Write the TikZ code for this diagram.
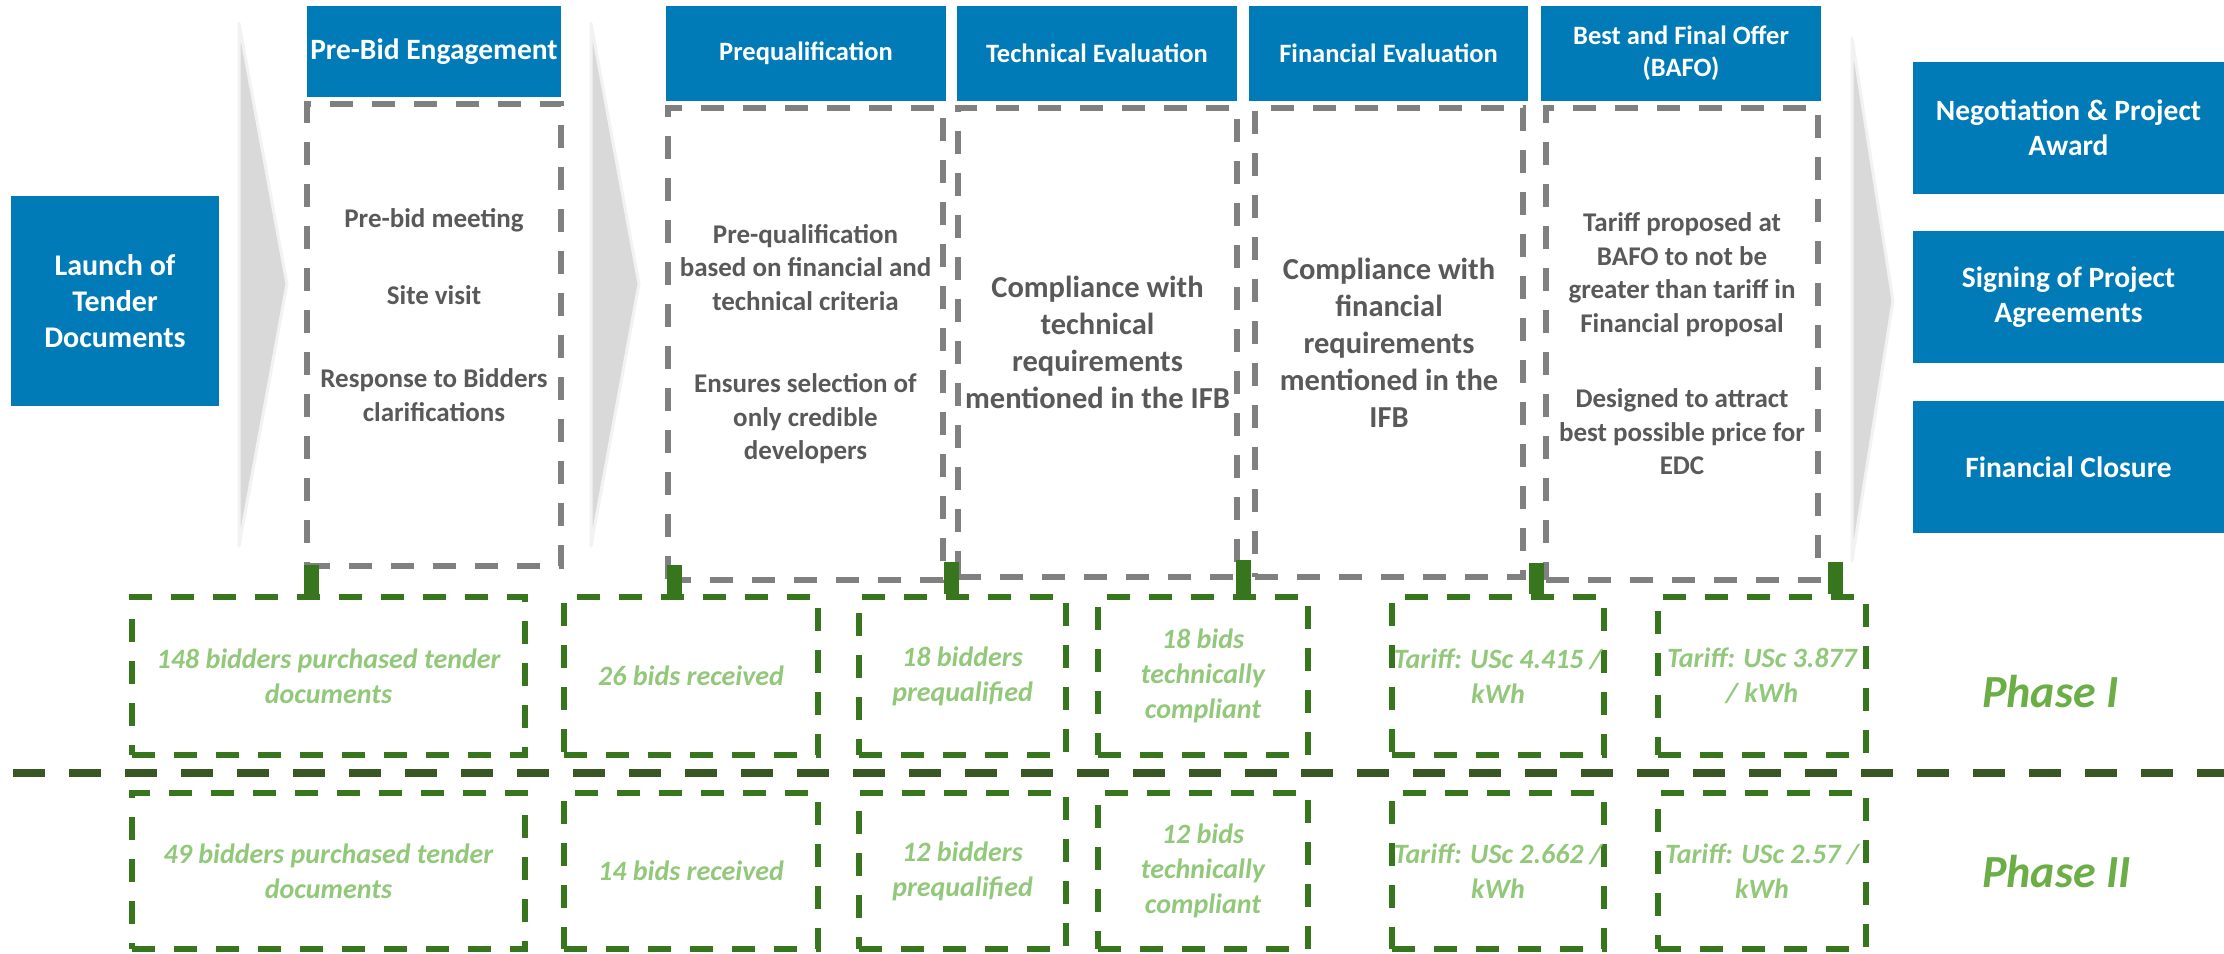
\documentclass[tikz,border=0pt]{standalone}
\usepackage{fontspec}
\setmainfont{Carlito}
\definecolor{stageblue}{RGB}{0,123,183}
\definecolor{bodygray}{RGB}{89,89,89}
\definecolor{dashgray}{RGB}{128,128,128}
\definecolor{chevgray}{RGB}{217,217,217}
\definecolor{chevedge}{RGB}{242,242,242}
\definecolor{boxgreen}{RGB}{56,118,29}
\definecolor{rulegreen}{RGB}{56,87,35}
\definecolor{figgreen}{RGB}{146,200,122}
\definecolor{phasegreen}{RGB}{106,174,69}

\begin{document}
\begin{tikzpicture}[x=1pt,y=-1pt,
  bluebox/.style={fill=stageblue,text=white,inner sep=0pt,align=center,
    font=\bfseries\fontsize{26.5}{32}\selectfont},
  stagebox/.style={draw=dashgray,line width=5.5pt,dash pattern=on 23pt off 19pt,
    inner sep=0pt},
  bodytxt/.style={text=bodygray,align=center,inner sep=0pt,
    font=\bfseries\fontsize{27}{33.5}\selectfont},
  bigtxt/.style={text=bodygray,align=center,inner sep=0pt,
    font=\bfseries\fontsize{30.5}{37}\selectfont},
  figbox/.style={draw=boxgreen,line width=5.5pt,dash pattern=on 23pt off 19pt,
    inner sep=0pt,text=figgreen,align=center,
    font=\bfseries\itshape\fontsize{28}{35}\selectfont},
  chev/.style={fill=chevgray,draw=chevedge,line width=3pt,line join=round},
  tick/.style={draw=boxgreen,line width=15pt},
  phase/.style={text=phasegreen,inner sep=0pt,anchor=west,
    font=\bfseries\itshape\fontsize{46}{50}\selectfont}]
\useasboundingbox (0,0) rectangle (2224,953);

% chevrons between the stages
\filldraw[chev] (239,23) -- (287,284) -- (239,546) -- cycle;
\filldraw[chev] (591,23) -- (639,284) -- (591,546) -- cycle;
\filldraw[chev] (1852,38) -- (1893,301) -- (1852,561) -- cycle;

% start
\node[bluebox,minimum width=208pt,minimum height=210pt,
  font=\bfseries\fontsize{30}{36}\selectfont] (launch) at (115,301)
  {Launch of\\Tender\\Documents};

% stage headers
\node[bluebox,minimum width=254pt,minimum height=91pt,
  font=\bfseries\fontsize{29.5}{34}\selectfont] (hpb) at (434,51.5) {Pre-Bid Engagement};
\node[bluebox,minimum width=280pt,minimum height=95pt] (hpq) at (806,53.5) {Prequalification};
\node[bluebox,minimum width=280pt,minimum height=95pt] (hte) at (1097,53.5) {Technical Evaluation};
\node[bluebox,minimum width=279pt,minimum height=95pt] (hfe) at (1388.5,53.5) {Financial Evaluation};
\node[bluebox,minimum width=280pt,minimum height=95pt] (hbf) at (1681,53.5) {Best and Final Offer\\(BAFO)};

% stage contents
\node[stagebox,minimum width=254pt,minimum height=462pt] (pb) at (434,335) {};
\node[bodytxt] (pbt) at ([yshift=20pt]pb.center)
  {Pre-bid meeting\\[43pt]Site visit\\[50pt]Response to Bidders\\clarifications};
\node[stagebox,minimum width=275pt,minimum height=472pt] (pq) at (805.5,344) {};
\node[bodytxt] (pqt) at (pq.center)
  {Pre-qualification\\based on financial and\\technical criteria\\[49pt]Ensures selection of\\only credible\\developers};
\node[stagebox,minimum width=279pt,minimum height=469pt] (te) at (1097.5,342.5) {};
\node[bigtxt] (tet) at (te.center)
  {Compliance with\\technical\\requirements\\mentioned in the IFB};
\node[stagebox,minimum width=268pt,minimum height=469pt] (fe) at (1389,342.5) {};
\node[bigtxt] (fet) at (fe.center)
  {Compliance with\\financial\\requirements\\mentioned in the\\IFB};
\node[stagebox,minimum width=272pt,minimum height=472pt] (bf) at (1682,344) {};
\node[bodytxt] (bft) at (bf.center)
  {Tariff proposed at\\BAFO to not be\\greater than tariff in\\Financial proposal\\[42pt]Designed to attract\\best possible price for\\EDC};

% closing steps
\node[bluebox,minimum width=311pt,minimum height=132pt,
  font=\bfseries\fontsize{29.5}{35}\selectfont] (neg) at (2068.5,128) {Negotiation \& Project\\Award};
\node[bluebox,minimum width=311pt,minimum height=132pt,
  font=\bfseries\fontsize{29.5}{35}\selectfont] (sgn) at (2068.5,297) {Signing of Project\\Agreements};
\node[bluebox,minimum width=311pt,minimum height=132pt,
  font=\bfseries\fontsize{29.5}{35}\selectfont] (fcl) at (2068.5,467) {Financial Closure};

% phase I figures
\node[figbox,minimum width=393pt,minimum height=158pt] (ia) at (328.5,676) {148 bidders purchased tender\\documents};
\node[figbox,minimum width=254pt,minimum height=158pt] (ib) at (691,676) {26 bids received};
\node[figbox,minimum width=207pt,minimum height=158pt] (ic) at (962.5,676) {18 bidders\\prequalified};
\node[figbox,minimum width=210pt,minimum height=158pt] (id) at (1203,676) {18 bids\\technically\\compliant};
\node[figbox,minimum width=212pt,minimum height=158pt] (ie) at (1498,676) {Tariff: USc 4.415 /\\kWh};
\node[figbox,minimum width=208pt,minimum height=158pt] (if) at (1762,676) {Tariff: USc 3.877\\/ kWh};

% phase II figures
\node[figbox,minimum width=393pt,minimum height=156pt] (iia) at (328.5,871) {49 bidders purchased tender\\documents};
\node[figbox,minimum width=254pt,minimum height=156pt] (iib) at (691,871) {14 bids received};
\node[figbox,minimum width=207pt,minimum height=156pt] (iic) at (962.5,871) {12 bidders\\prequalified};
\node[figbox,minimum width=210pt,minimum height=156pt] (iid) at (1203,871) {12 bids\\technically\\compliant};
\node[figbox,minimum width=212pt,minimum height=156pt] (iie) at (1498,871) {Tariff: USc 2.662 /\\kWh};
\node[figbox,minimum width=208pt,minimum height=156pt] (iif) at (1762,871) {Tariff: USc 2.57 /\\kWh};

% ticks from each stage down to its phase I figure
\coordinate (k1) at (311,565);
\coordinate (k2) at (674,565);
\coordinate (k3) at (951,562);
\coordinate (k4) at (1243,560);
\coordinate (k5) at (1536,563);
\coordinate (k6) at (1835,562);
\draw[tick] (k1) -- (k1 |- ia.north);
\draw[tick] (k2) -- (k2 |- ib.north);
\draw[tick] (k3) -- (k3 |- ic.north);
\draw[tick] (k4) -- (k4 |- id.north);
\draw[tick] (k5) -- (k5 |- ie.north);
\draw[tick] (k6) -- (k6 |- if.north);

% phase split
\draw[rulegreen,line width=8pt,dash pattern=on 32pt off 24pt] (13,773) -- (2224,773);
\node[phase] (ph1) at (1982,692) {Phase I};
\node[phase] (ph2) at (1982,872) {Phase II};
\end{tikzpicture}
\end{document}
